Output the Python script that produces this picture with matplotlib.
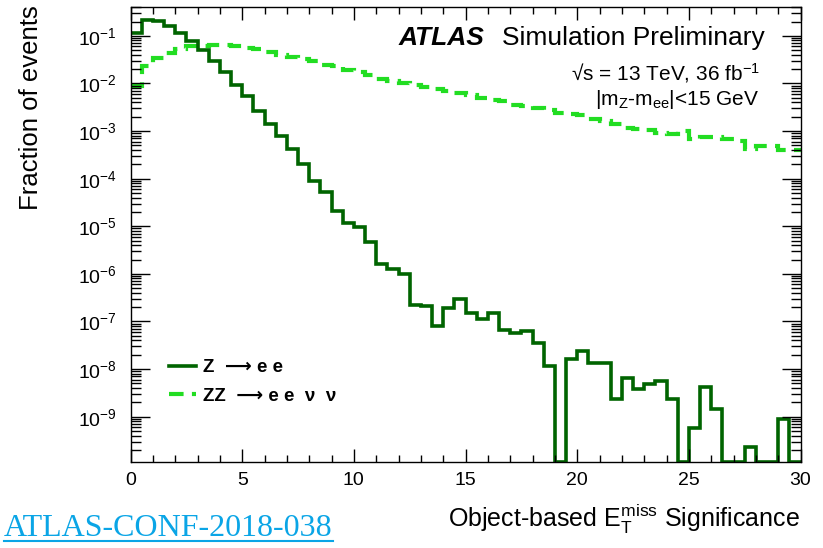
import numpy as np
import matplotlib
matplotlib.use('Agg')
from matplotlib import pyplot as plt
from matplotlib.ticker import MultipleLocator, LogLocator, FixedLocator, NullFormatter
from matplotlib.lines import Line2D

plt.rcParams['font.family'] = ['Liberation Sans', 'DejaVu Sans']
plt.rcParams['mathtext.fontset'] = 'custom'
plt.rcParams['mathtext.rm'] = 'Liberation Sans'
plt.rcParams['mathtext.it'] = 'Liberation Sans:italic'
plt.rcParams['mathtext.bf'] = 'Liberation Sans:bold'

# 0.5-wide bins of the object-based MET significance
bin_edges = np.linspace(0, 30, 61)

# Z -> ee (fraction of events per bin)
z_ee = [0.116, 0.22, 0.21, 0.16, 0.116, 0.077, 0.05, 0.029, 0.017, 0.0095,
        0.0054, 0.0027, 0.00144, 0.00078, 0.00041, 0.0002, 8.9e-5, 5.3e-5, 2.1e-5, 1.17e-5,
        9.7e-6, 4.6e-6, 1.58e-6, 1.29e-6, 1.0e-6, 2.26e-7, 2.1e-7, 8.2e-8, 1.94e-7, 3.0e-7,
        1.5e-7, 1.13e-7, 1.5e-7, 6.7e-8, 5.7e-8, 6.4e-8, 3.5e-8, 1.15e-8, 0, 1.65e-8,
        2.4e-8, 1.35e-8, 1.35e-8, 2.4e-9, 6.6e-9, 3.9e-9, 4.8e-9, 5.6e-9, 2.4e-9, 0,
        5.9e-10, 4.3e-9, 1.44e-9, 0, 0, 2.3e-10, 0, 0, 9.1e-10, 0]

# ZZ -> ee nu nu
zz_eevv = [0.0087, 0.023, 0.035, 0.044, 0.053, 0.060, 0.062, 0.063, 0.063, 0.060,
           0.056, 0.052, 0.045, 0.040, 0.036, 0.032, 0.029, 0.025, 0.023, 0.0196,
           0.017, 0.0154, 0.0124, 0.0111, 0.0103, 0.0095, 0.0085, 0.0077, 0.0071, 0.0063,
           0.0058, 0.0050, 0.0046, 0.0042, 0.0036, 0.0033, 0.0031, 0.0028, 0.0024, 0.0023,
           0.0022, 0.0018, 0.0016, 0.0014, 0.00118, 0.00108, 0.00105, 0.00089, 0.00085, 0.0010,
           0.00069, 0.00076, 0.00076, 0.00069, 0.00061, 0.00043, 0.00048, 0.00049, 0.00040, 0.00040]

labels = ['Z  \u27f6 e e', 'ZZ  \u27f6 e e  \u03bd  \u03bd']

y_lo, y_hi = 1.1e-10, 0.41
dark_green = '#006400'
light_green = '#22dd22'

fig = plt.figure(figsize=(8.23, 5.48), dpi=100)
ax = fig.add_axes([0.1586, 0.1564, 0.8141, 0.8314])

# empty bins sit on the lower edge of the frame
z_plot = np.where(np.array(z_ee) > 0, z_ee, y_lo)
zz_plot = np.where(np.array(zz_eevv) > 0, zz_eevv, y_lo)

ax.stairs(zz_plot, bin_edges, baseline=None, color=light_green, lw=3,
          linestyle=(0, (3.5, 2)))
ax.stairs(z_plot, bin_edges, baseline=None, color=dark_green, lw=2.6)

ax.set_yscale('log')
ax.set_xlim(0, 30)
ax.set_ylim(y_lo, y_hi)

ax.xaxis.set_major_locator(MultipleLocator(5))
ax.xaxis.set_minor_locator(MultipleLocator(1))
# only the decades inside the frame get a label
ax.yaxis.set_major_locator(FixedLocator(10.0 ** np.arange(-9, 0)))
ax.yaxis.set_minor_locator(LogLocator(base=10, subs=np.arange(2, 10), numticks=20))
ax.yaxis.set_minor_formatter(NullFormatter())

ax.tick_params(axis='both', which='both', direction='in', top=True, right=True,
               colors='black', labelsize=14)
ax.tick_params(axis='x', which='major', length=9.5, width=1, pad=7)
ax.tick_params(axis='x', which='minor', length=5, width=1)
ax.tick_params(axis='y', which='major', length=14, width=1, pad=10)
ax.tick_params(axis='y', which='minor', length=7, width=1)
for sp in ax.spines.values():
    sp.set_linewidth(1)

# legend
handles = [Line2D([], [], color=dark_green, lw=2.6),
           Line2D([], [], color=light_green, lw=3, linestyle=(0, (3.5, 2)))]
ax.legend(handles, labels, loc='upper left', bbox_to_anchor=(0.057, 0.226),
          frameon=False,
          prop={'family': ['Liberation Sans', 'DejaVu Sans'], 'weight': 'bold', 'size': 13.5},
          handlelength=1.45, handletextpad=0.4, labelspacing=0.6,
          borderpad=0, borderaxespad=0)

# labels and annotations
fig.text(765 / 823, 1 - 45 / 548, 'Simulation Preliminary', ha='right',
         va='baseline', fontsize=19)
fig.text(484 / 823, 1 - 45 / 548, 'ATLAS', ha='right', va='baseline',
         fontsize=19, fontweight='bold', fontstyle='italic')
fig.text(760 / 823, 1 - 80 / 548, '√s = 13 TeV, 36 fb$^{-1}$', ha='right',
         va='baseline', fontsize=15)
fig.text(759 / 823, 1 - 105 / 548, '|m$_{\\mathrm{Z}}$-m$_{\\mathrm{ee}}$|<15 GeV',
         ha='right', va='baseline', fontsize=15)

fig.text(31 / 823, 1 - 5 / 548, 'Fraction of events', rotation=90,
         ha='center', va='top', fontsize=18.5)
fig.text(800 / 823, 1 - 527 / 548,
         'Object-based E$_{\\mathrm{T}}^{\\mathrm{miss}}$ Significance',
         ha='right', va='baseline', fontsize=18)

fig.text(4 / 823, 1 - 536 / 548, 'ATLAS-CONF-2018-038', ha='left', va='baseline',
         fontsize=23, family='Liberation Serif', color='#0aa5e6')
fig.add_artist(Line2D([4 / 823, 333 / 823], [1 - 541 / 548, 1 - 541 / 548],
                      color='#0aa5e6', lw=1.5))

fig.savefig('out.png', dpi=100)
